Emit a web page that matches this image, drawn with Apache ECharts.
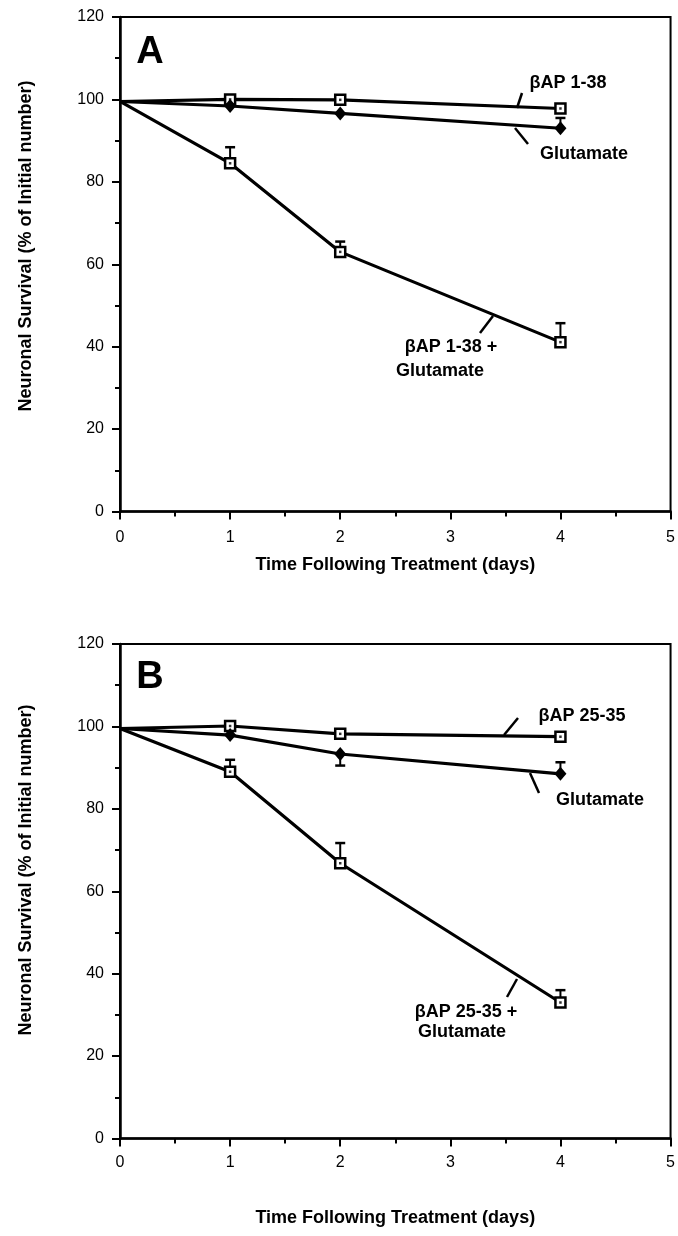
<!DOCTYPE html>
<html>
<head>
<meta charset="utf-8">
<script src="https://cdn.jsdelivr.net/npm/echarts@6/dist/echarts.min.js"></script>
<style>
  html, body { margin: 0; padding: 0; background: #fff; }
  #chart { width: 678px; height: 1236px; }
</style>
</head>
<body>
<div id="chart"></div>
<script>
// days after treatment
const days = [0, 1, 2, 4];

// panel A
const bap138 = [99.5, 100.0, 99.9, 97.8];
const gluA = [99.5, 98.4, 96.6, 93.0];
const bap138Glu = [99.5, 84.5, 63.0, 41.1];
const gluAErr = [null, null, null, 95.5];
const bap138GluErr = [null, 88.4, 65.5, 45.7];

// panel B
const bap2535 = [99.5, 100.1, 98.2, 97.5];
const gluB = [99.5, 97.9, 93.3, 88.5];
const bap2535Glu = [99.5, 89.0, 66.8, 33.0];
const gluBErr = [null, null, 90.5, 91.3];
const bap2535GluErr = [null, 91.9, 71.7, 36.0];

// axes
const xRange = [0, 5];
const xStep = 1;
const yRange = [0, 120];
const yStep = 20;
const xTitle = "Time Following Treatment (days)";
const yTitle = "Neuronal Survival (% of Initial number)";

const FONT = "'Liberation Sans', Arial, Helvetica, sans-serif";

function lineSeries(idx, vals, kind) {
  const open = kind === "open";
  return {
    type: "line",
    xAxisIndex: idx,
    yAxisIndex: idx,
    data: days.map((d, i) => ({
      value: [d, vals[i]],
      symbol: i === 0 ? "none" : open ? "rect" : "diamond",
    })),
    symbolSize: open ? 10 : [12, 14],
    showSymbol: true,
    lineStyle: { color: "#000", width: 3.2 },
    itemStyle: open
      ? { color: "#fff", borderColor: "#000", borderWidth: 2.5 }
      : { color: "#000", borderColor: "#000", borderWidth: 0 },
    animation: false,
    silent: true,
    z: 3,
  };
}

// small dot in the middle of the open squares
function dotSeries(idx, vals) {
  return {
    type: "scatter",
    xAxisIndex: idx,
    yAxisIndex: idx,
    data: days.slice(1).map((d, i) => [d, vals[i + 1]]),
    symbol: "rect",
    symbolSize: 2.5,
    itemStyle: { color: "#000" },
    animation: false,
    silent: true,
    z: 4,
  };
}

function errSeries(idx, vals, errs) {
  return {
    type: "custom",
    xAxisIndex: idx,
    yAxisIndex: idx,
    data: days
      .map((d, i) => [d, vals[i], errs[i]])
      .filter((r) => r[2] != null),
    encode: { x: 0, y: [1, 2] },
    renderItem(params, api) {
      const p0 = api.coord([api.value(0), api.value(1)]);
      const p1 = api.coord([api.value(0), api.value(2)]);
      const w = 5;
      return {
        type: "group",
        children: [
          {
            type: "line",
            shape: { x1: p0[0], y1: p0[1], x2: p1[0], y2: p1[1] },
            style: { stroke: "#000", lineWidth: 2 },
          },
          {
            type: "line",
            shape: { x1: p1[0] - w, y1: p1[1], x2: p1[0] + w, y2: p1[1] },
            style: { stroke: "#000", lineWidth: 2.5 },
          },
        ],
      };
    },
    animation: false,
    silent: true,
    z: 2,
  };
}

function xAxis(idx, labelMargin, nameGap) {
  return {
    type: "value",
    gridIndex: idx,
    min: xRange[0],
    max: xRange[1],
    interval: xStep,
    name: xTitle,
    nameLocation: "middle",
    nameGap: nameGap,
    nameTextStyle: { color: "#000", fontFamily: FONT, fontWeight: "bold", fontSize: 18 },
    axisLine: { lineStyle: { color: "#000", width: 2.5 } },
    axisTick: { show: true, inside: false, length: 8, lineStyle: { color: "#000", width: 2 } },
    minorTick: { show: true, splitNumber: 2, length: 5, lineStyle: { color: "#000", width: 2 } },
    axisLabel: { color: "#000", fontFamily: FONT, fontSize: 16, margin: labelMargin },
    splitLine: { show: false },
  };
}

function yAxis(idx) {
  return {
    type: "value",
    gridIndex: idx,
    min: yRange[0],
    max: yRange[1],
    interval: yStep,
    axisLine: { show: true, lineStyle: { color: "#000", width: 2.5 } },
    axisTick: { show: true, inside: false, length: 8, lineStyle: { color: "#000", width: 2 } },
    minorTick: { show: true, splitNumber: 2, length: 5, lineStyle: { color: "#000", width: 2 } },
    axisLabel: { color: "#000", fontFamily: FONT, fontSize: 16, margin: 16 },
    splitLine: { show: false },
  };
}

function label(x, y, text, size) {
  return {
    type: "text",
    x: x,
    y: y,
    silent: true,
    style: {
      text: text,
      fill: "#000",
      font: "bold " + (size || 18) + "px " + FONT,
      textAlign: "center",
      textVerticalAlign: "middle",
    },
  };
}

function leader(x1, y1, x2, y2) {
  return {
    type: "line",
    silent: true,
    shape: { x1: x1, y1: y1, x2: x2, y2: y2 },
    style: { stroke: "#000", lineWidth: 2.5 },
  };
}

const chart = echarts.init(document.getElementById("chart"), null, { renderer: "canvas" });

chart.setOption({
  backgroundColor: "#fff",
  animation: false,
  grid: [
    { left: 120, top: 17, width: 551, height: 494.5, show: true, borderColor: "#000", borderWidth: 2, backgroundColor: "transparent" },
    { left: 120, top: 644, width: 551, height: 494.5, show: true, borderColor: "#000", borderWidth: 2, backgroundColor: "transparent" },
  ],
  xAxis: [xAxis(0, 18, 45), xAxis(1, 16, 71)],
  yAxis: [yAxis(0), yAxis(1)],
  series: [
    errSeries(0, gluA, gluAErr),
    errSeries(0, bap138Glu, bap138GluErr),
    lineSeries(0, bap138, "open"),
    lineSeries(0, gluA, "filled"),
    lineSeries(0, bap138Glu, "open"),
    dotSeries(0, bap138),
    dotSeries(0, bap138Glu),

    errSeries(1, gluB, gluBErr),
    errSeries(1, bap2535Glu, bap2535GluErr),
    lineSeries(1, bap2535, "open"),
    lineSeries(1, gluB, "filled"),
    lineSeries(1, bap2535Glu, "open"),
    dotSeries(1, bap2535),
    dotSeries(1, bap2535Glu),
  ],
  graphic: [
    // y titles
    {
      type: "text", x: 26, y: 246, rotation: Math.PI / 2, silent: true,
      style: { text: yTitle, fill: "#000", font: "bold 18px " + FONT, textAlign: "center", textVerticalAlign: "middle" },
    },
    {
      type: "text", x: 26, y: 870, rotation: Math.PI / 2, silent: true,
      style: { text: yTitle, fill: "#000", font: "bold 18px " + FONT, textAlign: "center", textVerticalAlign: "middle" },
    },
    // panel letters
    label(150, 53, "A", 38),
    label(150, 678, "B", 38),
    // panel A notes
    label(568, 83, "βAP 1-38"),
    leader(522, 93, 517, 108),
    label(584, 154, "Glutamate"),
    leader(515, 128, 528, 144),
    label(451, 347, "βAP 1-38 +"),
    label(440, 371, "Glutamate"),
    leader(493, 316, 480, 333),
    // panel B notes
    label(582, 716, "βAP 25-35"),
    leader(518, 718, 504, 735),
    label(600, 800, "Glutamate"),
    leader(530, 773, 539, 793),
    label(466, 1012, "βAP 25-35 +"),
    label(462, 1032, "Glutamate"),
    leader(517, 979, 507, 997),
  ],
});
</script>
</body>
</html>
